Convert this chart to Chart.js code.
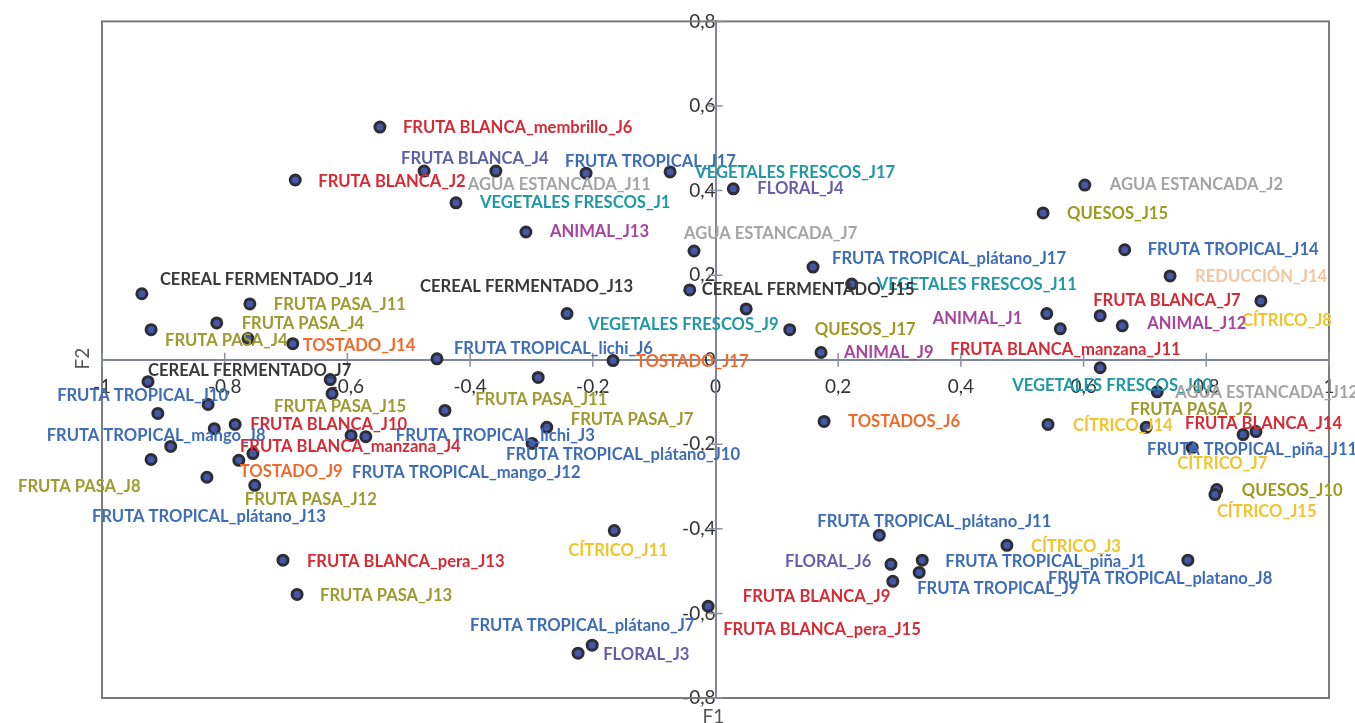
<!DOCTYPE html>
<html>
<head>
<meta charset="utf-8">
<script src="https://cdn.jsdelivr.net/npm/chart.js@4.4.1/dist/chart.umd.min.js"></script>
<style>
  html, body { margin: 0; padding: 0; background: #ffffff; }
  canvas { display: block; }
</style>
</head>
<body>
<canvas id="map" width="1355" height="723"></canvas>
<script>
// Observations (descriptor_judge) projected on the first two factors.
const names = [
  'FRUTA BLANCA_membrillo_J6', 'FRUTA BLANCA_J2', 'FRUTA BLANCA_J4', 'AGUA ESTANCADA_J11',
  'VEGETALES FRESCOS_J1', 'FRUTA TROPICAL_J17', 'VEGETALES FRESCOS_J17', 'FLORAL_J4',
  'ANIMAL_J13', 'AGUA ESTANCADA_J7', 'AGUA ESTANCADA_J2', 'QUESOS_J15',
  'FRUTA TROPICAL_J14', 'REDUCCIÓN_J14', 'CÍTRICO_J8', 'FRUTA BLANCA_J7',
  'ANIMAL_J12', 'ANIMAL_J1', 'FRUTA BLANCA_manzana_J11', 'VEGETALES FRESCOS_J10',
  'AGUA ESTANCADA_J12', 'FRUTA TROPICAL_plátano_J17', 'VEGETALES FRESCOS_J11', 'CEREAL FERMENTADO_J15',
  'CEREAL FERMENTADO_J13', 'VEGETALES FRESCOS_J9', 'QUESOS_J17', 'ANIMAL_J9',
  'FRUTA TROPICAL_lichi_J6', 'TOSTADO_J17', 'CEREAL FERMENTADO_J14', 'FRUTA PASA_J11',
  'FRUTA PASA_J4', 'FRUTA PASA_J4', '', 'TOSTADO_J14',
  'CEREAL FERMENTADO_J7', 'FRUTA PASA_J11', '', 'FRUTA PASA_J7',
  'FRUTA TROPICAL_plátano_J10', 'FRUTA TROPICAL_lichi_J3', 'FRUTA TROPICAL_mango_J12', '',
  'FRUTA PASA_J15', 'FRUTA TROPICAL_J10', '', '',
  'FRUTA BLANCA_J10', 'FRUTA TROPICAL_mango_J8', 'FRUTA BLANCA_manzana_J4', 'FRUTA PASA_J8',
  'TOSTADO_J9', 'FRUTA TROPICAL_plátano_J13', 'FRUTA PASA_J12', 'CÍTRICO_J11',
  'FRUTA BLANCA_pera_J13', 'FRUTA PASA_J13', 'FRUTA TROPICAL_plátano_J7', 'FLORAL_J3',
  'FRUTA BLANCA_pera_J15', 'TOSTADOS_J6', 'FRUTA TROPICAL_plátano_J11', 'FLORAL_J6',
  'FRUTA BLANCA_J9', 'FRUTA TROPICAL_piña_J1', 'FRUTA TROPICAL_J9', 'CÍTRICO_J3',
  'FRUTA TROPICAL_platano_J8', 'QUESOS_J10', 'CÍTRICO_J15', 'CÍTRICO_J14',
  'FRUTA PASA_J2', 'FRUTA BLANCA_J14', 'FRUTA TROPICAL_piña_J11', 'CÍTRICO_J7'
];

const f1 = [
  -0.547, -0.685, -0.475, -0.358,
  -0.423, -0.211, -0.074, 0.029,
  -0.309, -0.035, 0.602, 0.534,
  0.667, 0.741, 0.889, 0.627,
  0.663, 0.540, 0.562, 0.627,
  0.720, 0.159, 0.222, -0.042,
  -0.242, 0.050, 0.121, 0.172,
  -0.454, -0.167, -0.935, -0.759,
  -0.813, -0.920, -0.762, -0.689,
  -0.925, -0.289, -0.441, -0.275,
  -0.299, -0.570, -0.594, -0.628,
  -0.625, -0.827, -0.909, -0.817,
  -0.783, -0.888, -0.754, -0.920,
  -0.777, -0.829, -0.751, -0.165,
  -0.705, -0.682, -0.224, -0.201,
  -0.012, 0.177, 0.267, 0.286,
  0.289, 0.337, 0.332, 0.475,
  0.770, 0.817, 0.814, 0.542,
  0.702, 0.881, 0.860, 0.777
];

const f2 = [
  0.550, 0.425, 0.446, 0.446,
  0.371, 0.441, 0.444, 0.404,
  0.302, 0.257, 0.413, 0.347,
  0.260, 0.198, 0.139, 0.104,
  0.080, 0.109, 0.073, -0.019,
  -0.076, 0.219, 0.179, 0.165,
  0.109, 0.120, 0.071, 0.017,
  0.002, -0.002, 0.156, 0.132,
  0.087, 0.071, 0.050, 0.038,
  -0.052, -0.042, -0.120, -0.160,
  -0.198, -0.182, -0.179, -0.047,
  -0.080, -0.106, -0.127, -0.163,
  -0.153, -0.205, -0.222, -0.236,
  -0.238, -0.278, -0.297, -0.404,
  -0.474, -0.555, -0.694, -0.675,
  -0.583, -0.146, -0.415, -0.484,
  -0.524, -0.474, -0.503, -0.439,
  -0.474, -0.307, -0.319, -0.153,
  -0.160, -0.170, -0.177, -0.208
];

// Where each name sits relative to its point (pixels: start of text, text middle).
const labelDx = [
  23, 23, -23, -28, 24, -21, 25, 24, 24, -10, 25, 24, 23, 25, -19, -7,
  25, -114, -110, -88, 18, 19, 25, 12, -147, -158, 25, 23, 17, 23, 18, 24,
  25, 14, 0, 10, 0, -63, 0, 24, -26, 30, 1, 0, -58, -151, 0, 0,
  15, -124, -13, -133, 1, -115, -10, -46, 24, 23, -108, 11, 15, 24, -62, -106,
  -150, 23, -2, 24, -140, 25, 2, 25, -16, -71, -96, -15
];
const labelDy = [
  1, 2, -12, 14, 0, -12, 1, 0, 0, -17, 0, 1, 0, 1, 20, -15,
  -2, 5, 21, 18, 1, -8, 1, 0, -27, 16, 0, 0, -10, 1, -14, 1,
  1, 11, 0, 2, -11, 22, 0, -8, 11, -1, 37, 0, 13, -9, 0, 0,
  0, -11, -7, 27, 11, 39, 14, 20, 1, 1, -28, 9, 23, 0, -14, -3,
  15, 1, 16, 1, 18, 1, 17, 1, -18, -8, 15, 16
];

const f1Ticks = [-1, -0.8, -0.6, -0.4, -0.2, 0, 0.2, 0.4, 0.6, 0.8, 1];
const f2Ticks = [-0.8, -0.6, -0.4, -0.2, 0, 0.2, 0.4, 0.6, 0.8];
const axisNames = { x: 'F1', y: 'F2' };

// Text colour per descriptor family (text before the first underscore).
const familyColours = {
  'FRUTA BLANCA': '#d52b36',
  'FRUTA TROPICAL': '#3e6cb6',
  'VEGETALES FRESCOS': '#1f98a3',
  'AGUA ESTANCADA': '#a4a4a4',
  'FLORAL': '#6a5ca8',
  'ANIMAL': '#a7459d',
  'QUESOS': '#9d9a20',
  'FRUTA PASA': '#9c9a30',
  'CEREAL FERMENTADO': '#383838',
  'TOSTADO': '#ee6b2c',
  'TOSTADOS': '#ee6b2c',
  'CÍTRICO': '#f0c42c',
  'REDUCCIÓN': '#f2c6a2'
};
const colourOverrides = { 'FRUTA BLANCA_J4': '#5f5fa9' };

function labelColour(name) {
  return colourOverrides[name] || familyColours[name.split('_')[0]] || '#333333';
}

function decimalComma(v) {
  const r = Math.round(v * 10) / 10;
  return String(r).replace('.', ',');
}

const LABEL_FAMILY = 'Lato, "Open Sans", sans-serif';
let labelSize = 16;
(function fitLabelSize() {
  const c = document.createElement('canvas').getContext('2d');
  c.font = 'bold 16px ' + LABEL_FAMILY;
  const w = c.measureText('FRUTA BLANCA_membrillo_J6').width;
  if (w > 0) labelSize = Math.round(16 * 230 / w * 10) / 10;
})();

const mapDecor = {
  id: 'mapDecor',
  beforeDatasetsDraw(chart) {
    const { ctx, chartArea: a, scales: { x, y } } = chart;
    ctx.save();
    // frame
    ctx.strokeStyle = '#7b7b7b';
    ctx.lineWidth = 2;
    ctx.strokeRect(a.left, a.top, a.right - a.left, a.bottom - a.top);
    // tick marks crossing the central axes
    const x0 = x.getPixelForValue(0);
    const y0 = y.getPixelForValue(0);
    ctx.strokeStyle = '#8a90a0';
    ctx.lineWidth = 1.5;
    ctx.beginPath();
    x.ticks.forEach(t => {
      const p = x.getPixelForValue(t.value);
      ctx.moveTo(p, y0 - 7); ctx.lineTo(p, y0 + 7);
    });
    y.ticks.forEach(t => {
      const p = y.getPixelForValue(t.value);
      ctx.moveTo(x0 - 7, p); ctx.lineTo(x0 + 7, p);
    });
    ctx.stroke();
    ctx.restore();
  },
  afterDatasetsDraw(chart) {
    const { ctx } = chart;
    const meta = chart.getDatasetMeta(0);
    ctx.save();
    ctx.font = 'bold ' + labelSize + 'px ' + LABEL_FAMILY;
    ctx.textAlign = 'left';
    ctx.textBaseline = 'middle';
    meta.data.forEach((pt, i) => {
      const name = names[i];
      if (!name) return;
      ctx.fillStyle = labelColour(name);
      ctx.fillText(name, pt.x + labelDx[i], pt.y + labelDy[i]);
    });
    ctx.restore();
  },
  afterDraw(chart) {
    const { ctx, chartArea: a, scales: { y } } = chart;
    ctx.save();
    ctx.fillStyle = '#555555';
    ctx.font = '19px ' + LABEL_FAMILY;
    ctx.textAlign = 'center';
    ctx.textBaseline = 'middle';
    ctx.fillText(axisNames.x, (a.left + a.right) / 2 - 2, a.bottom + 19);
    ctx.translate(a.left - 19, y.getPixelForValue(0) - 1);
    ctx.rotate(-Math.PI / 2);
    ctx.fillText(axisNames.y, 0, 0);
    ctx.restore();
  }
};

const tickFont = { family: LABEL_FAMILY, size: 19, weight: 'normal' };

new Chart(document.getElementById('map'), {
  type: 'scatter',
  data: {
    datasets: [{
      data: f1.map((v, i) => ({ x: v, y: f2[i] })),
      pointRadius: 5,
      pointHoverRadius: 5,
      pointBackgroundColor: '#4657aa',
      pointBorderColor: '#2d2d33',
      pointBorderWidth: 3
    }]
  },
  options: {
    responsive: false,
    devicePixelRatio: 1,
    animation: false,
    events: [],
    layout: { padding: { left: 102, top: 20, right: 26, bottom: 25 } },
    plugins: { legend: { display: false }, tooltip: { enabled: false }, title: { display: false } },
    scales: {
      x: {
        type: 'linear',
        min: -1, max: 1,
        position: { y: 0 },
        afterFit(s) { s.height = 0; },
        afterBuildTicks(s) { s.ticks = f1Ticks.map(v => ({ value: v })); },
        grid: { display: false, drawTicks: false },
        border: { display: true, color: '#80869a', width: 2 },
        ticks: { font: tickFont, color: '#333333', padding: 16, maxRotation: 0, autoSkip: false, callback: v => decimalComma(v) }
      },
      y: {
        type: 'linear',
        min: -0.8, max: 0.8,
        position: { x: 0 },
        afterFit(s) { s.width = 0; },
        afterBuildTicks(s) { s.ticks = f2Ticks.map(v => ({ value: v })); },
        grid: { display: false, drawTicks: false },
        border: { display: true, color: '#80869a', width: 2 },
        ticks: { font: tickFont, color: '#333333', padding: 10, autoSkip: false, callback: v => decimalComma(v) }
      }
    }
  },
  plugins: [mapDecor]
});
</script>
</body>
</html>
